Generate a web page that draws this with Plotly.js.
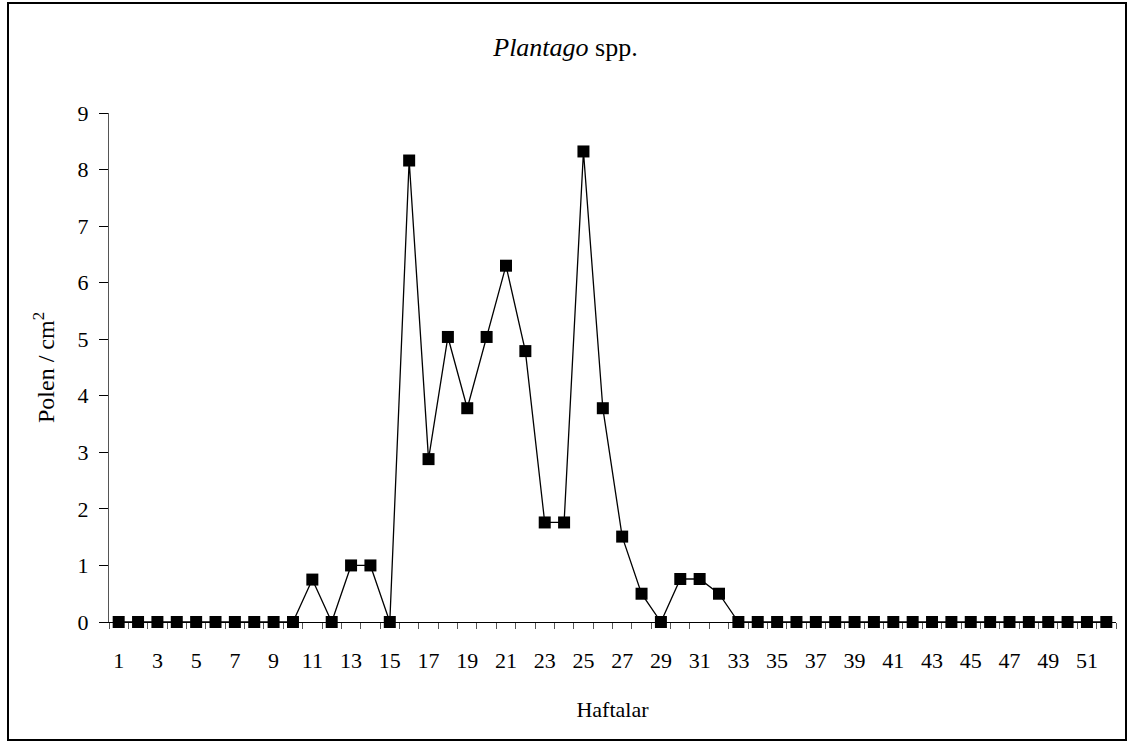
<!DOCTYPE html>
<html>
<head>
<meta charset="utf-8">
<script src="https://cdn.plot.ly/plotly-3.0.1.min.js"></script>
<style>
  html, body { margin: 0; padding: 0; background: #ffffff; }
  #chart { width: 1131px; height: 742px; }
</style>
</head>
<body>
<div id="chart"></div>
<script>
// Weekly Plantago pollen counts (pollen / cm²)
const weeks = [1, 2, 3, 4, 5, 6, 7, 8, 9, 10, 11, 12, 13, 14, 15, 16, 17, 18, 19, 20,
  21, 22, 23, 24, 25, 26, 27, 28, 29, 30, 31, 32, 33, 34, 35, 36, 37, 38, 39, 40,
  41, 42, 43, 44, 45, 46, 47, 48, 49, 50, 51, 52];

const pollen = [0, 0, 0, 0, 0, 0, 0, 0, 0, 0, 0.75, 0, 1, 1, 0, 8.16, 2.88, 5.04, 3.78, 5.04,
  6.3, 4.79, 1.76, 1.76, 8.32, 3.78, 1.51, 0.5, 0, 0.76, 0.76, 0.5, 0, 0, 0, 0, 0, 0, 0, 0,
  0, 0, 0, 0, 0, 0, 0, 0, 0, 0, 0, 0];

// Labelled weeks on the horizontal axis
const labelWeeks = [1, 3, 5, 7, 9, 11, 13, 15, 17, 19, 21, 23, 25, 27, 29, 31, 33, 35, 37,
  39, 41, 43, 45, 47, 49, 51];

const yTicks = [0, 1, 2, 3, 4, 5, 6, 7, 8, 9];

// Tick marks sit on the boundaries between weeks
const boundaries = weeks.map(w => w - 0.5).concat([weeks[weeks.length - 1] + 0.5]);
const xRange = [weeks[0] - 0.5, weeks[weeks.length - 1] + 0.5];

const serif = 'Liberation Serif, Times New Roman, serif';

const traces = [
  {
    x: weeks,
    y: pollen,
    type: 'scatter',
    mode: 'lines+markers',
    line: { color: '#000000', width: 1.3 },
    marker: { symbol: 'square', size: 12, color: '#000000' },
    cliponaxis: false,
    hoverinfo: 'x+y'
  },
  {
    x: [],
    y: [],
    xaxis: 'x2',
    type: 'scatter',
    mode: 'markers',
    showlegend: false,
    hoverinfo: 'skip'
  }
];

const layout = {
  width: 1131,
  height: 742,
  paper_bgcolor: '#ffffff',
  plot_bgcolor: '#ffffff',
  showlegend: false,
  margin: { l: 109, r: 15, t: 113, b: 120 },
  font: { family: serif, size: 22, color: '#000000' },
  title: {
    text: '<i>Plantago</i> spp.',
    font: { family: serif, size: 26, color: '#000000' },
    x: 0.5,
    xanchor: 'center',
    y: 0.937,
    yanchor: 'middle'
  },
  xaxis: {
    range: xRange,
    tickmode: 'array',
    tickvals: labelWeeks,
    ticktext: labelWeeks.map(String),
    ticks: '',
    showgrid: false,
    zeroline: false,
    showline: true,
    linecolor: '#000000',
    linewidth: 1,
    tickfont: { family: serif, size: 22, color: '#000000' },
    ticklabelstandoff: 19,
    title: {
      text: 'Haftalar',
      font: { family: serif, size: 22, color: '#000000' },
      standoff: 29
    }
  },
  xaxis2: {
    overlaying: 'x',
    matches: 'x',
    range: xRange,
    side: 'bottom',
    anchor: 'y',
    tickmode: 'array',
    tickvals: boundaries,
    ticks: 'outside',
    ticklen: 6,
    tickwidth: 1,
    tickcolor: '#555555',
    showticklabels: false,
    showgrid: false,
    zeroline: false,
    showline: false
  },
  yaxis: {
    range: [0, 9],
    tickmode: 'array',
    tickvals: yTicks,
    ticktext: yTicks.map(String),
    ticks: 'outside',
    ticklen: 9,
    tickwidth: 1,
    tickcolor: '#000000',
    showgrid: false,
    zeroline: false,
    showline: true,
    linecolor: '#555555',
    linewidth: 1,
    tickfont: { family: serif, size: 22, color: '#000000' },
    ticklabelstandoff: 6,
    title: {
      text: 'Polen / cm<sup>2</sup>',
      font: { family: serif, size: 24, color: '#000000' },
      standoff: 16
    }
  },
  shapes: [
    {
      type: 'rect',
      xref: 'paper',
      yref: 'paper',
      x0: (8 - 109) / 1007,
      x1: (1126 - 109) / 1007,
      y0: (622 - 740) / 509,
      y1: (622 - 3) / 509,
      line: { color: '#000000', width: 2 },
      fillcolor: 'rgba(0,0,0,0)',
      layer: 'below'
    }
  ]
};

Plotly.newPlot('chart', traces, layout, { displayModeBar: false, staticPlot: true });
</script>
</body>
</html>
